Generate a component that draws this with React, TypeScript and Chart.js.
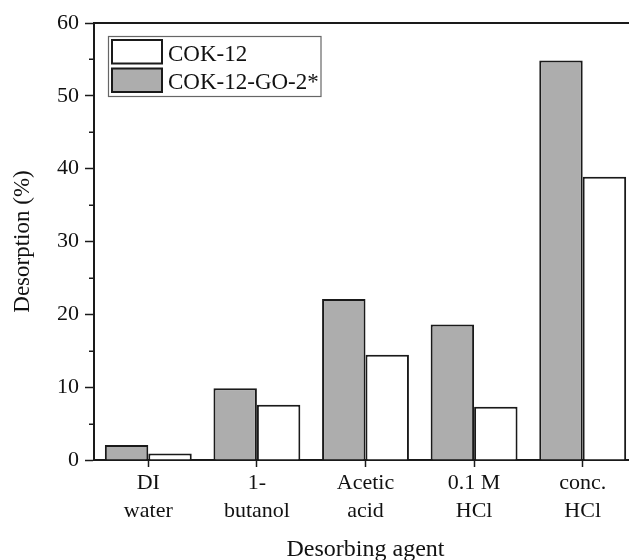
import React, { useEffect, useRef } from "react";
import { Chart, registerables } from "chart.js";

Chart.register(...registerables);

const categories: string[][] = [
  ["DI", "water"],
  ["1-", "butanol"],
  ["Acetic", "acid"],
  ["0.1 M", "HCl"],
  ["conc.", "HCl"],
];
const cokGo2Values: number[] = [2.05, 9.85, 22.1, 18.6, 54.85];
const cok12Values: number[] = [0.9, 7.6, 14.45, 7.3, 38.9];
const seriesNames: string[] = ["COK-12-GO-2*", "COK-12"];
const yTicks: number[] = [0, 10, 20, 30, 40, 50, 60];
const yMinorTicks: number[] = [5, 15, 25, 35, 45, 55];

const FONT = "'Liberation Serif', 'Times New Roman', serif";
const GRAY = "#adadad";
const EDGE = "#1a1a1a";

const framePlugin = {
  id: "frameAndLegend",
  afterDraw(chart: any) {
    const { ctx, chartArea } = chart;
    const y = chart.scales.y;
    ctx.save();
    // top frame line
    ctx.strokeStyle = EDGE;
    ctx.lineWidth = 2;
    ctx.beginPath();
    ctx.moveTo(chartArea.left, chartArea.top);
    ctx.lineTo(chartArea.right + 1, chartArea.top);
    ctx.stroke();
    // minor ticks
    ctx.lineWidth = 1.5;
    yMinorTicks.forEach((v) => {
      const py = Math.round(y.getPixelForValue(v)) + 0.25;
      ctx.beginPath();
      ctx.moveTo(chartArea.left - 5, py);
      ctx.lineTo(chartArea.left, py);
      ctx.stroke();
    });
    // legend
    const lx = 108, ly = 36, lw = 212.5, lh = 60;
    ctx.strokeStyle = "#666";
    ctx.lineWidth = 1.2;
    ctx.strokeRect(lx + 0.5, ly + 0.5, lw, lh);
    const ds = chart.data.datasets.slice().reverse();
    ds.forEach((d: any, i: number) => {
      const by = 40 + i * 28.5;
      ctx.fillStyle = d.backgroundColor;
      ctx.fillRect(112, by, 50, 23.5);
      ctx.strokeStyle = EDGE;
      ctx.lineWidth = 2;
      ctx.strokeRect(112, by, 50, 23.5);
      ctx.fillStyle = "#111";
      ctx.font = `23px ${FONT}`;
      ctx.textBaseline = "alphabetic";
      ctx.textAlign = "left";
      ctx.fillText(d.label, 168, by + 20.5);
    });
    ctx.restore();
  },
};

export default function App() {
  const ref = useRef<HTMLCanvasElement | null>(null);
  useEffect(() => {
    if (!ref.current) return;
    const chart = new Chart(ref.current, {
      type: "bar",
      data: {
        labels: categories,
        datasets: [
          {
            label: seriesNames[0],
            data: cokGo2Values,
            backgroundColor: GRAY,
            borderColor: EDGE,
            borderWidth: 2,
            categoryPercentage: 0.8,
            barPercentage: 1.0,
          },
          {
            label: seriesNames[1],
            data: cok12Values,
            backgroundColor: "#ffffff",
            borderColor: EDGE,
            borderWidth: 2,
            categoryPercentage: 0.8,
            barPercentage: 1.0,
          },
        ],
      },
      options: {
        animation: false,
        responsive: false,
        maintainAspectRatio: false,
        layout: { padding: { left: 0, right: 23, top: 23, bottom: 0 } },
        plugins: {
          legend: { display: false },
          tooltip: { enabled: false },
        },
        scales: {
          x: {
            grid: {
              offset: false,
              drawOnChartArea: false,
              drawTicks: true,
              tickLength: 7,
              tickWidth: 1.5,
              tickColor: EDGE,
            },
            border: { display: true, color: EDGE, width: 2 },
            ticks: {
              color: "#111",
              font: { family: FONT, size: 22, lineHeight: 1.27 },
              padding: 2,
              maxRotation: 0,
              autoSkip: false,
            },
            title: {
              display: true,
              text: "Desorbing agent",
              color: "#111",
              font: { family: FONT, size: 24 },
              padding: { top: 0, bottom: 15.6 },
            },
            afterFit: (s: any) => {
              s.height = 120;
            },
          },
          y: {
            min: 0,
            max: 60,
            afterBuildTicks: (s: any) => {
              s.ticks = yTicks.map((v) => ({ value: v }));
            },
            grid: {
              drawOnChartArea: false,
              drawTicks: true,
              tickLength: 9,
              tickWidth: 1.5,
              tickColor: EDGE,
            },
            border: { display: true, color: EDGE, width: 2 },
            ticks: {
              color: "#111",
              font: { family: FONT, size: 22 },
              padding: 6,
            },
            title: {
              display: true,
              text: "Desorption (%)",
              color: "#111",
              font: { family: FONT, size: 23 },
              padding: { top: 9, bottom: 0 },
            },
            afterFit: (s: any) => {
              s.width = 94;
            },
          },
        },
      },
      plugins: [framePlugin],
    });
    return () => chart.destroy();
  }, []);
  return (
    <div
      style={{
        position: "fixed",
        left: 0,
        top: 0,
        width: 629,
        height: 560,
        overflow: "hidden",
        background: "#fff",
      }}
    >
      <canvas ref={ref} width={660} height={580} style={{ display: "block", width: 660, height: 580 }} />
    </div>
  );
}
